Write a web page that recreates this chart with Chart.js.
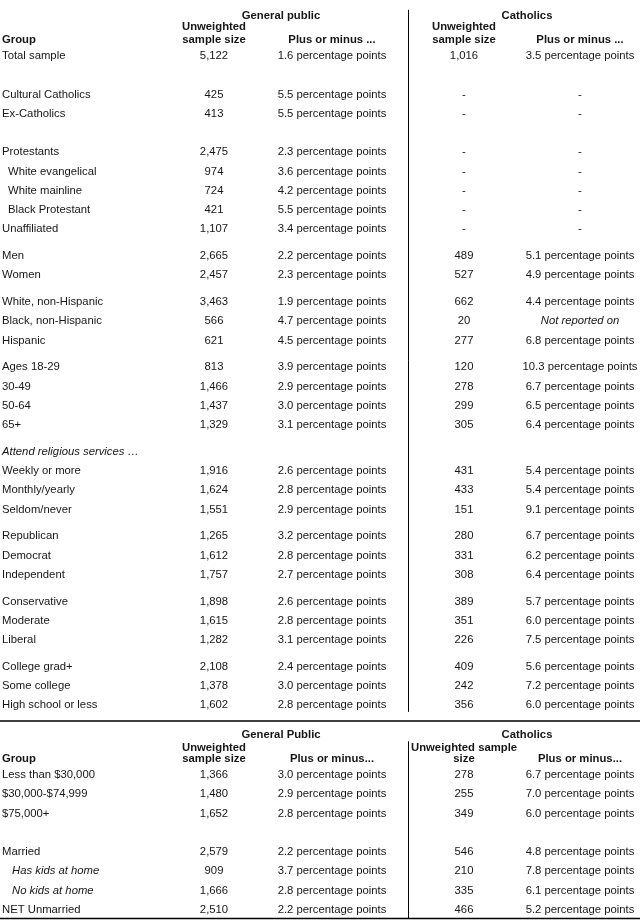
<!DOCTYPE html>
<html><head><meta charset="utf-8">
<script src="https://cdn.jsdelivr.net/npm/chart.js@4.4.1/dist/chart.umd.min.js"></script>
<style>html,body{margin:0;padding:0;background:#fff}#wrap{width:640px;height:920px;position:relative}</style>
</head><body><div id="wrap"><canvas id="c"></canvas></div>
<script>
// ---------- DATA: top table ----------
const topGroups = ['Total sample', '', 'Cultural Catholics', 'Ex-Catholics', '', 'Protestants', 'White evangelical', 'White mainline', 'Black Protestant', 'Unaffiliated',
  'Men', 'Women', 'White, non-Hispanic', 'Black, non-Hispanic', 'Hispanic', 'Ages 18-29', '30-49', '50-64', '65+',
  'Attend religious services …', 'Weekly or more', 'Monthly/yearly', 'Seldom/never', 'Republican', 'Democrat', 'Independent',
  'Conservative', 'Moderate', 'Liberal', 'College grad+', 'Some college', 'High school or less'];
const topBlocks = [0,0,0,0,0,0,0,0,0,0, 1,1, 2,2,2, 3,3,3,3, 4,4,4,4, 5,5,5, 6,6,6, 7,7,7];
const topGpN = [5122, null, 425, 413, null, 2475, 974, 724, 421, 1107, 2665, 2457, 3463, 566, 621, 813, 1466, 1437, 1329,
  null, 1916, 1624, 1551, 1265, 1612, 1757, 1898, 1615, 1282, 2108, 1378, 1602];
const topGpMoe = [1.6, null, 5.5, 5.5, null, 2.3, 3.6, 4.2, 5.5, 3.4, 2.2, 2.3, 1.9, 4.7, 4.5, 3.9, 2.9, 3.0, 3.1,
  null, 2.6, 2.8, 2.9, 3.2, 2.8, 2.7, 2.6, 2.8, 3.1, 2.4, 3.0, 2.8];
const topCathN = [1016, null, '-', '-', null, '-', '-', '-', '-', '-', 489, 527, 662, 20, 277, 120, 278, 299, 305,
  null, 431, 433, 151, 280, 331, 308, 389, 351, 226, 409, 242, 356];
const topCathMoe = [3.5, null, '-', '-', null, '-', '-', '-', '-', '-', 5.1, 4.9, 4.4, 'Not reported on', 6.8, 10.3, 6.7, 6.5, 6.4,
  null, 5.4, 5.4, 9.1, 6.7, 6.2, 6.4, 5.7, 6.0, 7.5, 5.6, 7.2, 6.0];

// ---------- DATA: bottom table ----------
const botGroups = ['Less than $30,000', '$30,000-$74,999', '$75,000+', '', 'Married', 'Has kids at home', 'No kids at home', 'NET Unmarried'];
const botGpN = [1366, 1480, 1652, null, 2579, 909, 1666, 2510];
const botGpMoe = [3.0, 2.9, 2.8, null, 2.2, 3.7, 2.8, 2.2];
const botCathN = [278, 255, 349, null, 546, 210, 335, 466];
const botCathMoe = [6.7, 7.0, 6.0, null, 4.8, 7.8, 6.1, 5.2];

// ---------- HEADER TEXT ----------
const topHeads = { gp: 'General public', cath: 'Catholics', group: 'Group', unw: ['Unweighted', 'sample size'], moe: 'Plus or minus ...' };
const botHeads = { gp: 'General Public', cath: 'Catholics', group: 'Group', unw: ['Unweighted', 'sample size'], cathUnw: ['Unweighted sample', 'size'], moe: 'Plus or minus...' };

// ---------- STYLE / LAYOUT ----------
const indented = new Set(['White evangelical', 'White mainline', 'Black Protestant']);
const italicIndented = new Set(['Has kids at home', 'No kids at home']);
const italic = new Set(['Attend religious services …', 'Not reported on']);
const FONT = '"Liberation Sans", Arial, sans-serif';
const FS = 11.3;
const TXT = '#161616';
const ROW_PX = 19.25, GAP = 0.39, TOP_PX = 56, BOTTOM_START = 37.35;
const COL = { group: 2, gpN: 214, gpMoe: 332, divider: 408, cN: 464, cMoe: 580, gpHead: 281, cHead: 527, cUnwLeft: 411 };
const HEAD = { t1: -2.1, t2: -1.49, t3: -0.86, vTop: -2.4, vBot: 34.07, hLine: 34.55,
               b1: 35.28, b2: 35.92, b3: 36.52, v2Top: 35.6, v2Bot: 44.8 };

// row positions (in row units)
const topPos = []; { let p = 0; topGroups.forEach((g, i) => { if (i > 0) p += 1 + (topBlocks[i] !== topBlocks[i-1] ? GAP : 0); topPos.push(p); }); }
const botPos = botGroups.map((g, i) => BOTTOM_START + i);

const fmtN = v => v === null ? '' : (typeof v === 'number' ? v.toLocaleString('en-US') : v);
const fmtM = v => v === null ? '' : (typeof v === 'number' ? v.toFixed(1) + ' percentage points' : v);

function col(xv, texts, pos, align) {
  const d = [];
  texts.forEach((t, i) => { if (t !== '' && t !== null) d.push({ x: xv, y: pos[i], t }); });
  return { data: d, pointRadius: 0, align };
}
const groupTexts = topGroups.concat(botGroups);
const allPos = topPos.concat(botPos);
const datasets = [
  col(COL.group, groupTexts, allPos, 'left'),
  col(COL.gpN, topGpN.concat(botGpN).map(fmtN), allPos, 'center'),
  col(COL.gpMoe, topGpMoe.concat(botGpMoe).map(fmtM), allPos, 'center'),
  col(COL.cN, topCathN.concat(botCathN).map(fmtN), allPos, 'center'),
  col(COL.cMoe, topCathMoe.concat(botCathMoe).map(fmtM), allPos, 'center')
];

const tablePlugin = {
  id: 'tableText',
  afterDatasetsDraw(chart) {
    const ctx = chart.ctx, xs = chart.scales.x, ys = chart.scales.y;
    ctx.save();
    ctx.textBaseline = 'middle';
    ctx.fillStyle = TXT;
    chart.data.datasets.forEach((ds, di) => {
      const meta = chart.getDatasetMeta(di);
      meta.data.forEach((el, i) => {
        const t = ds.data[i].t;
        let x = el.x, style = '';
        if (di === 0 && indented.has(t)) x += 6;
        if (di === 0 && italicIndented.has(t)) { x += 10; style = 'italic '; }
        if (italic.has(t)) style = 'italic ';
        ctx.font = style + FS + 'px ' + FONT;
        ctx.textAlign = ds.align;
        ctx.fillText(t, x, el.y);
      });
    });
    // headers
    const X = v => xs.getPixelForValue(v), Y = v => ys.getPixelForValue(v);
    ctx.font = 'bold ' + FS + 'px ' + FONT;
    ctx.textAlign = 'center';
    ctx.fillText(topHeads.gp, X(COL.gpHead), Y(HEAD.t1));
    ctx.fillText(topHeads.cath, X(COL.cHead), Y(HEAD.t1));
    ctx.fillText(topHeads.unw[0], X(COL.gpN), Y(HEAD.t2));
    ctx.fillText(topHeads.unw[1], X(COL.gpN), Y(HEAD.t3));
    ctx.fillText(topHeads.unw[0], X(COL.cN), Y(HEAD.t2));
    ctx.fillText(topHeads.unw[1], X(COL.cN), Y(HEAD.t3));
    ctx.fillText(topHeads.moe, X(COL.gpMoe), Y(HEAD.t3));
    ctx.fillText(topHeads.moe, X(COL.cMoe), Y(HEAD.t3));
    ctx.textAlign = 'left';
    ctx.fillText(topHeads.group, X(COL.group), Y(HEAD.t3));

    ctx.textAlign = 'center';
    ctx.fillText(botHeads.gp, X(COL.gpHead), Y(HEAD.b1));
    ctx.fillText(botHeads.cath, X(COL.cHead), Y(HEAD.b1));
    ctx.fillText(botHeads.unw[0], X(COL.gpN), Y(HEAD.b2));
    ctx.fillText(botHeads.unw[1], X(COL.gpN), Y(HEAD.b3));
    ctx.fillText(botHeads.cathUnw[1], X(COL.cN), Y(HEAD.b3));
    ctx.fillText(botHeads.moe, X(COL.gpMoe), Y(HEAD.b3));
    ctx.fillText(botHeads.moe, X(COL.cMoe), Y(HEAD.b3));
    ctx.textAlign = 'left';
    ctx.fillText(botHeads.cathUnw[0], X(COL.cUnwLeft), Y(HEAD.b2));
    ctx.fillText(botHeads.group, X(COL.group), Y(HEAD.b3));

    // rules
    ctx.strokeStyle = '#000';
    ctx.lineWidth = 1;
    const vx = Math.round(X(COL.divider)) + 0.5;
    ctx.beginPath();
    ctx.moveTo(vx, Y(HEAD.vTop)); ctx.lineTo(vx, Y(HEAD.vBot));
    ctx.moveTo(vx, Y(HEAD.v2Top)); ctx.lineTo(vx, Y(HEAD.v2Bot));
    ctx.stroke();
    ctx.lineWidth = 1.5;
    ctx.beginPath();
    ctx.moveTo(xs.left, Y(HEAD.hLine)); ctx.lineTo(xs.right, Y(HEAD.hLine));
    ctx.moveTo(xs.left, Y(HEAD.v2Bot)); ctx.lineTo(xs.right, Y(HEAD.v2Bot));
    ctx.stroke();
    ctx.restore();
  }
};

new Chart(document.getElementById('c'), {
  type: 'scatter',
  data: { datasets },
  options: {
    responsive: true, maintainAspectRatio: false, animation: false,
    layout: { padding: 0 },
    plugins: { legend: { display: false }, tooltip: { enabled: false } },
    scales: {
      x: { type: 'linear', display: false, min: 0, max: 640 },
      y: { type: 'linear', display: false, reverse: true, min: -TOP_PX / ROW_PX, max: -TOP_PX / ROW_PX + 920 / ROW_PX }
    }
  },
  plugins: [tablePlugin]
});
</script></body></html>
